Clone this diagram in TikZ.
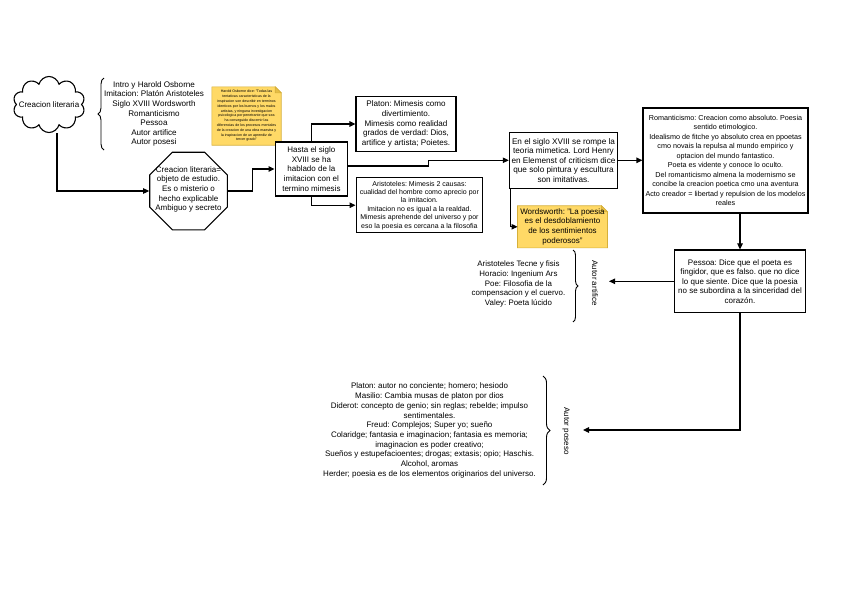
\documentclass[tikz,border=0pt]{standalone}
\usepackage{fontspec}
\setmainfont{Liberation Sans}
\usetikzlibrary{arrows.meta,shapes.geometric,shapes.symbols,decorations.pathreplacing,calc}
\definecolor{noteyellow}{RGB}{255,217,102}
\definecolor{noteedge}{RGB}{214,176,58}
\definecolor{notefold}{RGB}{230,190,70}
\frenchspacing
\begin{document}
\begin{tikzpicture}[x=1pt,y=-1pt,
  box/.style={draw=black, line width=1.1pt, fill=white, align=center, inner sep=0pt},
  conn/.style={line width=1.1pt, draw=black},
  arr/.style={conn, -{Triangle[length=6pt,width=5.5pt]}},
  brc/.style={decorate, decoration={brace, amplitude=#1}, line width=0.9pt},
  plain/.style={align=center, inner sep=0pt},
  notefill/.style={fill=noteyellow, draw=noteedge, line width=0.6pt},
]
\fill[white] (0,0) rectangle (848,600);
\useasboundingbox (0,0) rectangle (848,600);

% cloud
\node[cloud, cloud puffs=10, aspect=1.3, draw=black, line width=1.1pt, fill=white,
      minimum width=72pt, minimum height=56pt, inner sep=0pt] (cloud) at (49,104.5) {};
\node[plain, font=\fontsize{8}{9.6}\selectfont] (cloudtxt) at (cloud.center) {Creacion literaria};

% first list with brace
\draw[brc=6pt] (104,150) -- (104,78);
\node[plain, font=\fontsize{8.1}{9.6}\selectfont] (list1) at (154,114)
  {Intro y Harold Osborne\\Imitacion: Platón Aristoteles\\Siglo XVIII Wordsworth\\Romanticismo\\Pessoa\\Autor artifice\\Autor posesi};

% Osborne note
\node[minimum width=69pt, minimum height=58pt, inner sep=0pt] (note) at (246.5,116) {};
\filldraw[notefill] (note.north west) -- ([xshift=-6pt]note.north east) -- ([yshift=-6pt]note.north east)
  -- (note.south east) -- (note.south west) -- cycle;
\filldraw[fill=notefold, draw=noteedge, line width=0.6pt] ([xshift=-6pt]note.north east) -- ([xshift=-6pt,yshift=-6pt]note.north east) -- ([yshift=-6pt]note.north east) -- cycle;
\node[plain, font=\fontsize{3.6}{4.8}\selectfont] (notetxt) at (note.center)
  {Harold Osborne dice: "Todas las\\tentativas caracteristicas de la\\inspiracion son describir en terminos\\identicos por los buenos y los malos\\artistas, y ninguna investigacion\\psicologica por penetrante que sea\\ha conseguido discernir las\\diferencias de los procesos mentales\\de la creacion de una obra maestra y\\la inspiracion de un aprendiz de\\tercer grado"};

% octagon
\node[draw=black, regular polygon, regular polygon sides=8, minimum size=84pt, inner sep=0pt,
      line width=1.1pt, fill=white] (oct) at (188.5,191) {};
\node[plain, font=\fontsize{8}{9.6}\selectfont] (octtxt) at (188.5,189.5)
  {Creacion literaria=\\objeto de estudio.\\Es o misterio o\\hecho explicable\\Ambiguo y secreto};

% boxes
\node[box, minimum width=72.7pt, minimum height=54pt, font=\fontsize{8}{9.6}\selectfont] (hasta) at (311.4,169)
  {Hasta el siglo\\XVIII se ha\\hablado de la\\imitacion con el\\termino mimesis};
\node[box, minimum width=100pt, minimum height=54.3pt, font=\fontsize{8.1}{9.6}\selectfont] (platon) at (406,124)
  {Platon: Mimesis como\\divertimiento.\\Mimesis como realidad\\grados de verdad: Dios,\\artifice y artista; Poietes.};
\node[box, minimum width=126.7pt, minimum height=55pt, font=\fontsize{7}{8.4}\selectfont] (aris) at (419.4,205.2)
  {Aristoteles: Mimesis 2 causas:\\cualidad del hombre como aprecio por\\la imitacion.\\Imitacion no es igual a la realdad.\\Mimesis aprehende del universo y por\\eso la poesia es cercana a la filosofia};
\node[box, minimum width=108.4pt, minimum height=56pt, font=\fontsize{8.2}{9.6}\selectfont] (ensiglo) at (563.5,160.3)
  {En el siglo XVIII se rompe la\\teoria mimetica. Lord Henry\\en Elemenst of criticism dice\\que solo pintura y escultura\\son imitativas.};

% Wordsworth note
\node[minimum width=89.6pt, minimum height=41.7pt, inner sep=0pt] (words) at (562.5,226.8) {};
\filldraw[notefill] (words.north west) -- ([xshift=-6pt]words.north east) -- ([yshift=-6pt]words.north east)
  -- (words.south east) -- (words.south west) -- cycle;
\filldraw[fill=notefold, draw=noteedge, line width=0.6pt] ([xshift=-6pt]words.north east) -- ([xshift=-6pt,yshift=-6pt]words.north east) -- ([yshift=-6pt]words.north east) -- cycle;
\node[plain, font=\fontsize{8}{9.8}\selectfont] (wordstxt) at (words.center)
  {Wordsworth: "La poesia\\es el desdoblamiento\\de los sentimientos\\poderosos"};

\node[box, minimum width=165pt, minimum height=105pt, font=\fontsize{7.2}{9.5}\selectfont] (romant) at (725.5,160.5)
  {Romanticismo: Creacion como absoluto. Poesia\\sentido etimologico.\\Idealismo de fitche yo absoluto crea en ppoetas\\cmo novais la repulsa al mundo empirico y\\optacion del mundo fantastico.\\Poeta es vidente y conoce lo oculto.\\Del romanticismo almena la modernismo se\\concibe la creacion poetica cmo una aventura\\Acto creador = libertad y repulsion de los modelos\\reales};
\node[box, minimum width=131.4pt, minimum height=62.7pt, font=\fontsize{8}{9.5}\selectfont] (pessoa) at (740,281.3)
  {Pessoa: Dice que el poeta es\\fingidor, que es falso. que no dice\\lo que siente. Dice que la poesia\\no se subordina a la sinceridad del\\corazón.};

% Autor artifice group
\draw[brc=5pt] (573,250) -- (573,322);
\node[plain, font=\fontsize{7.9}{9.6}\selectfont] (artlist) at (518.5,284)
  {Aristoteles Tecne y fisis\\Horacio: Ingenium Ars\\Poe: Filosofia de la\\compensacion y el cuervo.\\Valey: Poeta lúcido};
\node[plain, rotate=-90, font=\fontsize{8}{9.6}\selectfont] (artlabel) at (595,283) {Autor artifice};
\coordinate (artif) at (609,281.3);

% Autor poseso group
\draw[brc=7pt] (543,376) -- (543,485);
\node[plain, font=\fontsize{8}{9.7}\selectfont] (poslist) at (429.5,430.5)
  {Platon: autor no conciente; homero; hesiodo\\Masilio: Cambia musas de platon por dios\\Diderot: concepto de genio; sin reglas; rebelde; impulso\\sentimentales.\\Freud: Complejos; Super yo; sueño\\Colaridge; fantasia e imaginacion; fantasia es memoria;\\imaginacion es poder creativo;\\Sueños y estupefacioentes; drogas; extasis; opio; Haschis.\\Alcohol, aromas\\Herder; poesia es de los elementos originarios del universo.};
\node[plain, rotate=-90, font=\fontsize{8}{9.6}\selectfont] (poslabel) at (566,431) {Autor poseso};
\coordinate (poses) at (583,430);

% connectors
\draw[arr] ([xshift=8pt]cloud.south) |- (oct.west);
\draw[arr] (oct.east) -- ++(25,0) |- (hasta.west);
\draw[arr] (hasta.north) |- (platon.west);
\draw[arr] (hasta.south) |- (aris.west);
\draw[arr] ([yshift=3pt]hasta.east) -- ++(80,0) |- (ensiglo.west);
\draw[arr] (ensiglo.east) -- (romant.west |- ensiglo.east);
\draw[arr] ([xshift=2pt]ensiglo.south west) |- (words.west);
\draw[arr] (pessoa.north |- romant.south) -- (pessoa.north);
\draw[arr] (pessoa.west) -- (artif |- pessoa.west);
\draw[arr] (pessoa.south) |- (poses);
\end{tikzpicture}
\end{document}
